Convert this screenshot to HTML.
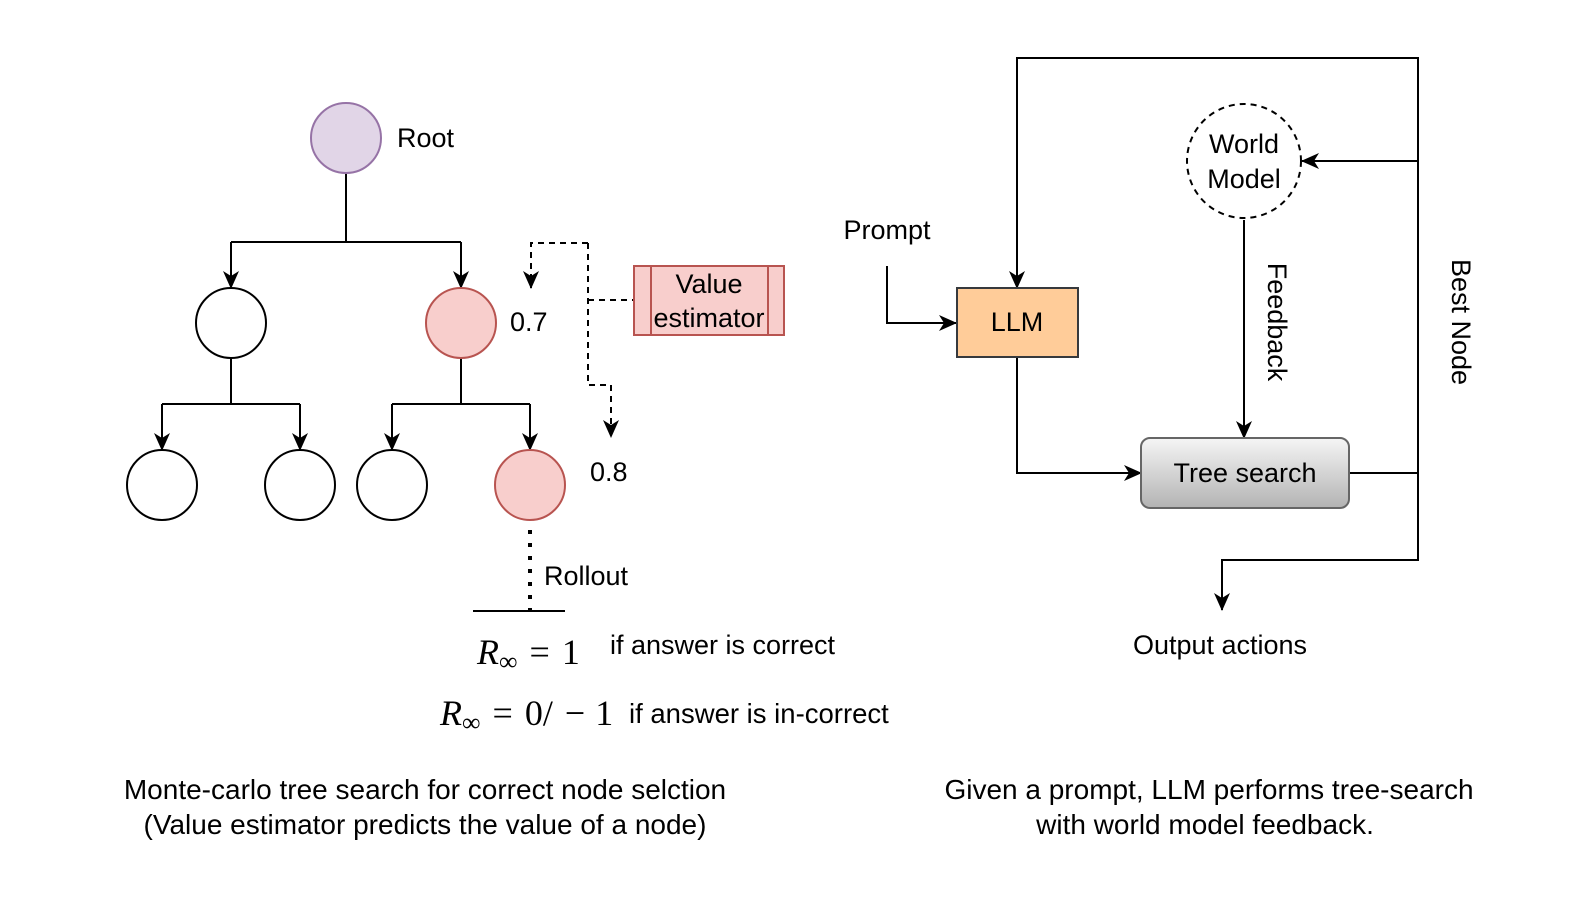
<!DOCTYPE html>
<html><head><style>
body{margin:0;background:#fff}
text{font-family:"Liberation Sans",Arial,sans-serif;fill:#000}
.m{font-family:"Liberation Serif",serif}
</style></head><body>
<svg width="1577" height="901" viewBox="0 0 1577 901" xmlns="http://www.w3.org/2000/svg">
<defs>
<marker id="a" viewBox="0 0 18 18" refX="17" refY="9" markerWidth="18" markerHeight="18" orient="auto" markerUnits="userSpaceOnUse"><path d="M0,1 L18,9 L0,17 L5,9 z" fill="#000"/></marker>
<linearGradient id="g" x1="0" y1="0" x2="0" y2="1"><stop offset="0" stop-color="#f5f5f5"/><stop offset="1" stop-color="#b3b3b3"/></linearGradient>
</defs>
<g stroke="#000" stroke-width="2" fill="none">
<path d="M346,173 V242 M231,242 H461"/>
<path d="M231,242 V288" style="marker-end:url(#a)"/>
<path d="M461,242 V288" style="marker-end:url(#a)"/>
<path d="M231,358 V404 M162,404 H300 M461,358 V404 M392,404 H530"/>
<path d="M162,404 V450" style="marker-end:url(#a)"/>
<path d="M300,404 V450" style="marker-end:url(#a)"/>
<path d="M392,404 V450" style="marker-end:url(#a)"/>
<path d="M530,404 V450" style="marker-end:url(#a)"/>
<path d="M530,530 V611" stroke-width="4" stroke-dasharray="4,9"/>
<path d="M473,611 H565"/>
<g stroke-dasharray="6,5">
<path d="M588,243 H531 V288" style="marker-end:url(#a)"/>
<path d="M588,243 V385 H611 V437" style="marker-end:url(#a)"/>
<path d="M588,300 H634"/>
</g>
<path d="M887,266 V323 H956" style="marker-end:url(#a)"/>
<path d="M1017,288 V58 H1418 V560 H1222 V610" style="marker-end:url(#a)"/>
<path d="M1017,88 V288" style="marker-end:url(#a)"/>
<path d="M1418,161 H1302" style="marker-end:url(#a)"/>
<path d="M1244,220 V438" style="marker-end:url(#a)"/>
<path d="M1017,357 V473 H1141" style="marker-end:url(#a)"/>
<path d="M1349,473 H1418"/>
</g>
<circle cx="346" cy="138" r="35" fill="#e1d5e7" stroke="#9673a6" stroke-width="2"/>
<circle cx="231" cy="323" r="35" fill="#fff" stroke="#000" stroke-width="2"/>
<circle cx="461" cy="323" r="35" fill="#f8cecc" stroke="#b85450" stroke-width="2"/>
<circle cx="162" cy="485" r="35" fill="#fff" stroke="#000" stroke-width="2"/>
<circle cx="300" cy="485" r="35" fill="#fff" stroke="#000" stroke-width="2"/>
<circle cx="392" cy="485" r="35" fill="#fff" stroke="#000" stroke-width="2"/>
<circle cx="530" cy="485" r="35" fill="#f8cecc" stroke="#b85450" stroke-width="2"/>
<rect x="634" y="266" width="150" height="69" fill="#f8cecc" stroke="#b85450" stroke-width="2"/>
<path d="M651,266 V335 M768,266 V335" stroke="#b85450" stroke-width="2"/>
<text x="709" y="293" font-size="27" text-anchor="middle">Value</text>
<text x="709" y="327" font-size="27" text-anchor="middle">estimator</text>
<text x="397" y="147" font-size="27">Root</text>
<text x="510" y="331" font-size="27">0.7</text>
<text x="590" y="481" font-size="27">0.8</text>
<text x="544" y="585" font-size="27">Rollout</text>
<text x="477" y="664" font-size="36" class="m"><tspan font-style="italic">R</tspan><tspan font-size="26" dy="6">∞</tspan><tspan dy="-6" dx="12">=</tspan><tspan dx="12">1</tspan></text>
<text x="610" y="654" font-size="27">if answer is correct</text>
<text x="440" y="725" font-size="36" class="m"><tspan font-style="italic">R</tspan><tspan font-size="26" dy="6">∞</tspan><tspan dy="-6" dx="12">=</tspan><tspan dx="12">0/</tspan><tspan dx="12">−</tspan><tspan dx="10">1</tspan></text>
<text x="629" y="723" font-size="27.5">if answer is in-correct</text>
<text x="425" y="799" font-size="28" text-anchor="middle">Monte-carlo tree search for correct node selction</text>
<text x="425" y="834" font-size="28" text-anchor="middle">(Value estimator predicts the value of a node)</text>
<rect x="957" y="288" width="121" height="69" fill="#ffcc99" stroke="#36393d" stroke-width="2"/>
<text x="1017" y="331" font-size="27" text-anchor="middle">LLM</text>
<text x="887" y="239" font-size="27" text-anchor="middle">Prompt</text>
<circle cx="1244" cy="161" r="57" fill="#fff" stroke="#000" stroke-width="2" stroke-dasharray="6,5"/>
<text x="1244" y="153" font-size="27" text-anchor="middle">World</text>
<text x="1244" y="188" font-size="27" text-anchor="middle">Model</text>
<rect x="1141" y="438" width="208" height="70" rx="9" fill="url(#g)" stroke="#666" stroke-width="2"/>
<text x="1245" y="482" font-size="27" text-anchor="middle">Tree search</text>
<text font-size="27" text-anchor="middle" transform="translate(1268,322) rotate(90)">Feedback</text>
<text font-size="27" text-anchor="middle" transform="translate(1452,322) rotate(90)">Best Node</text>
<text x="1220" y="654" font-size="27" text-anchor="middle">Output actions</text>
<text x="1209" y="799" font-size="28" text-anchor="middle">Given a prompt, LLM performs  tree-search</text>
<text x="1205" y="834" font-size="28" text-anchor="middle">with world model feedback.</text>
</svg>
</body></html>
